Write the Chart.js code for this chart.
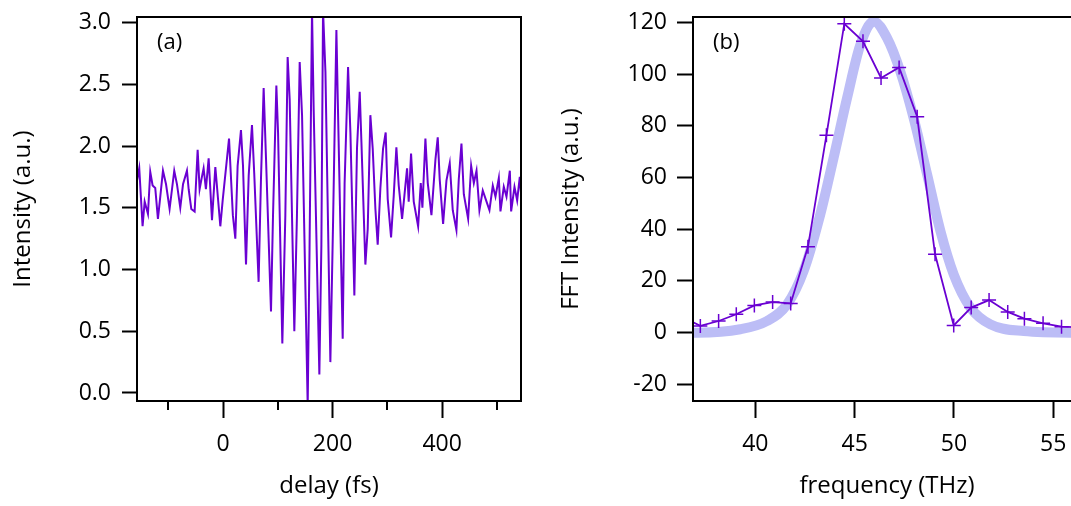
<!DOCTYPE html>
<html>
<head>
<meta charset="utf-8">
<script src="https://cdn.jsdelivr.net/npm/chart.js@4"></script>
<style>
  html, body { margin: 0; padding: 0; background: #fff; overflow: hidden; }
  #wrap { position: relative; width: 1071px; height: 506px; overflow: hidden; }
  #left { position: absolute; left: 0; top: 0; }
  #right { position: absolute; left: 540px; top: 0; }
</style>
</head>
<body>
<div id="wrap">
  <canvas id="left" width="540" height="506"></canvas>
  <canvas id="right" width="600" height="506"></canvas>
</div>
<script>
// (a) interferogram
const delay = [
  -157, -152.9, -146.8, -143, -137, -132.8, -128.5, -123.7, -118.8, -114.5,
  -109.6, -104, -97.5, -89, -84, -78, -73, -65.8, -62.7, -57.9,
  -51.8, -46.3, -42.7, -38.5, -35.4, -31.2, -26.2, -20.1, -14, -4.9,
  -0.6, 11, 18, 22.5, 26.7, 32.8, 36.5, 42, 46.9, 52.9,
  57, 65, 69.3, 74.2, 78.5, 87.6, 91.3, 97.4, 100.5, 108.3,
  113.8, 118, 121.7, 130.2, 135, 140, 144.3, 154.6, 158, 162.5,
  165.5, 175.9, 179.6, 182.6, 187, 196, 201, 207, 209.5, 218.5,
  222, 228.3, 232.6, 239.8, 244.6, 249.6, 252.7, 259.9, 264.2, 269,
  273.3, 278.2, 282.4, 287.3, 292.2, 297, 300.7, 306.8, 311.7, 316.5,
  320.8, 326.9, 331.2, 336, 339, 343.3, 348.2, 356.2, 361, 364,
  369.5, 373.8, 380.5, 387.8, 392, 395.6, 401.8, 407.9, 413.9, 419.4,
  426.1, 430.4, 435.3, 439.6, 447.5, 453, 457.9, 462.8, 468.1, 474.2,
  480.3, 486.4, 492.5, 497.4, 503.5, 506.5, 512.6, 517.5, 523.6, 526,
  532.1, 537, 541.8, 544
];
const intensity = [
  1.72, 1.82, 1.35, 1.55, 1.45, 1.79, 1.68, 1.66, 1.41, 1.59,
  1.80, 1.69, 1.49, 1.80, 1.69, 1.50, 1.69, 1.80, 1.65, 1.49,
  1.47, 1.97, 1.65, 1.75, 1.82, 1.65, 1.90, 1.40, 1.83, 1.35,
  1.56, 2.06, 1.44, 1.25, 1.84, 2.13, 1.84, 1.04, 1.76, 2.17,
  1.78, 0.90, 1.73, 2.47, 1.90, 0.66, 1.44, 2.49, 2.11, 0.40,
  1.44, 2.72, 2.38, 0.50, 1.44, 2.68, 2.25, -0.10, 1.17, 3.10,
  2.30, 0.15, 1.20, 3.10, 2.60, 0.25, 1.40, 2.94, 2.38, 0.44,
  1.70, 2.64, 2.11, 0.79, 1.98, 2.44, 2.03, 1.04, 1.33, 2.25,
  1.98, 1.49, 1.20, 1.66, 1.98, 2.11, 1.57, 1.26, 1.60, 1.99,
  1.68, 1.41, 1.60, 1.82, 1.55, 1.94, 1.55, 1.35, 1.70, 1.50,
  2.06, 1.70, 1.44, 1.89, 2.07, 1.73, 1.37, 1.72, 1.86, 1.48,
  1.32, 1.73, 2.02, 1.61, 1.41, 1.84, 1.70, 1.80, 1.48, 1.64,
  1.56, 1.48, 1.68, 1.59, 1.74, 1.47, 1.67, 1.59, 1.80, 1.47,
  1.67, 1.56, 1.75, 1.62
];
const delayTicks = [0, 200, 400];
const delayMinorTicks = [-100, 100, 300, 500];
const intensityTicks = [0, 0.5, 1, 1.5, 2, 2.5, 3];

// (b) FFT spectrum and fit
const freq = [36.32, 37.23, 38.15, 39.04, 39.95, 40.87, 41.78, 42.65, 43.58, 44.48, 45.42,
  46.33, 47.24, 48.15, 49.05, 49.99, 50.87, 51.77, 52.71, 53.55, 54.49, 55.42, 56.33];
const fftIntensity = [6, 2.6, 4.5, 7.1, 10.5, 11.8, 11.3, 33.2, 76.4, 119.5, 112.7,
  98.5, 102.6, 83.5, 30.3, 2.8, 9.7, 12.6, 8.0, 5.4, 3.6, 2.3, 2.0];
const fitFreq = [36.5, 37.06, 39.24, 40.59, 41.60, 42.43, 43.27, 43.94, 44.62, 45.29, 45.96,
  46.63, 47.30, 47.97, 48.65, 49.32, 49.99, 50.83, 51.84, 53.52, 55.87, 57];
const fitIntensity = [0, 0, 1.3, 4.5, 10.9, 23.8, 45.7, 67.6, 90.8, 111.4, 120.4,
  114, 101, 83, 61.2, 39.3, 22.5, 9.7, 3.2, 0.6, 0, 0];
const freqTicks = [40, 45, 50, 55];
const fftTicks = [-20, 0, 20, 40, 60, 80, 100, 120];

const purple = '#6a00d2';
const fitColor = '#bcbdf6';

Chart.defaults.font.family = "'Open Sans', sans-serif";
Chart.defaults.color = '#000';

// box around the plot area, minor ticks and panel letter
const framePlugin = {
  id: 'frame',
  afterDatasetsDraw(chart, args, opts) {
    const ctx = chart.ctx;
    const a = chart.chartArea;
    ctx.save();
    ctx.strokeStyle = '#000';
    ctx.lineWidth = 2;
    ctx.strokeRect(a.left, a.top, a.right - a.left, a.bottom - a.top);
    (opts.minor || []).forEach(v => {
      const px = Math.round(chart.scales.x.getPixelForValue(v));
      ctx.beginPath();
      ctx.moveTo(px, a.bottom);
      ctx.lineTo(px, a.bottom + 9);
      ctx.stroke();
    });
    ctx.font = "22px 'Open Sans'";
    ctx.fillStyle = '#000';
    ctx.textBaseline = 'middle';
    ctx.fillText(opts.label, a.left + 20, a.top + 26);
    ctx.restore();
  }
};

// no extra room for the end labels, the box is placed by layout padding
function noPad(s) {
  s.paddingTop = 0; s.paddingBottom = 0; s.paddingLeft = 0; s.paddingRight = 0;
}

function xAxis(min, max, ticks, title, tickLen) {
  return {
    type: 'linear', min: min, max: max,
    afterBuildTicks: s => { s.ticks = ticks.map(v => ({ value: v })); },
    afterFit: s => { s.height = 105; noPad(s); },
    ticks: { font: { size: 23 }, padding: 13, maxRotation: 0 },
    grid: { drawOnChartArea: false, tickLength: tickLen, tickWidth: 2, tickColor: '#000' },
    border: { display: false },
    title: { display: true, text: title, font: { size: 24 }, padding: { top: 0, bottom: 5 } }
  };
}

function yAxis(min, max, ticks, title, width, tickLen, pad, titlePad, fmt) {
  return {
    min: min, max: max,
    afterBuildTicks: s => { s.ticks = ticks.map(v => ({ value: v })); },
    afterFit: s => { s.width = width; noPad(s); },
    ticks: { font: { size: 23 }, padding: pad, callback: fmt },
    grid: { drawOnChartArea: false, tickLength: tickLen, tickWidth: 2, tickColor: '#000' },
    border: { display: false },
    title: { display: true, text: title, font: { size: 24 }, padding: { top: titlePad, bottom: 0 } }
  };
}

new Chart(document.getElementById('left').getContext('2d'), {
  type: 'line',
  data: {
    datasets: [{
      data: delay.map((d, i) => ({ x: d, y: intensity[i] })),
      borderColor: purple,
      borderWidth: 2,
      pointRadius: 0,
      tension: 0
    }]
  },
  options: {
    responsive: false,
    animation: false,
    layout: { padding: { top: 17, right: 19, left: 0, bottom: 0 } },
    plugins: { legend: { display: false }, tooltip: { enabled: false },
      frame: { label: '(a)', minor: delayMinorTicks } },
    scales: {
      x: xAxis(-157, 544, delayTicks, 'delay (fs)', 17),
      y: yAxis(-0.065, 3.045, intensityTicks, 'Intensity (a.u.)', 137, 15, 11, 9, v => v.toFixed(1))
    }
  },
  plugins: [framePlugin]
});

new Chart(document.getElementById('right').getContext('2d'), {
  type: 'line',
  data: {
    datasets: [{
      data: freq.map((f, i) => ({ x: f, y: fftIntensity[i] })),
      borderColor: purple,
      borderWidth: 1.8,
      pointStyle: 'cross',
      pointRadius: 7,
      pointBorderWidth: 1.5,
      pointBorderColor: purple,
      tension: 0
    }, {
      data: fitFreq.map((f, i) => ({ x: f, y: fitIntensity[i] })),
      borderColor: fitColor,
      borderWidth: 10,
      pointRadius: 0,
      cubicInterpolationMode: 'monotone'
    }]
  },
  options: {
    responsive: false,
    animation: false,
    layout: { padding: { top: 17, right: 59, left: 0, bottom: 0 } },
    plugins: { legend: { display: false }, tooltip: { enabled: false },
      frame: { label: '(b)' } },
    scales: {
      x: xAxis(36.86, 56.4, freqTicks, 'frequency (THz)', 17),
      y: yAxis(-26.45, 122.1, fftTicks, 'FFT Intensity (a.u.)', 153, 16, 10, 17, v => String(v))
    }
  },
  plugins: [framePlugin]
});
</script>
</body>
</html>
